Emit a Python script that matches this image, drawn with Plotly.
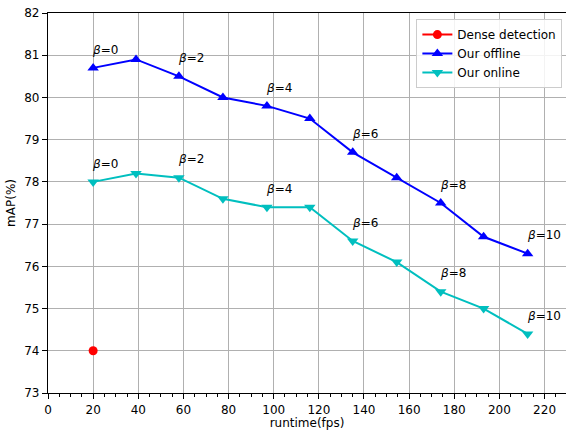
import plotly.graph_objects as go

# runtime (fps) for each beta setting
runtime = [20, 39, 58, 77.5, 97, 116, 135, 154.5, 174, 193, 212.5]
offline_map = [80.7, 80.9, 80.5, 80.0, 79.8, 79.5, 78.7, 78.1, 77.5, 76.7, 76.3]
online_map = [78.0, 78.2, 78.1, 77.6, 77.4, 77.4, 76.6, 76.1, 75.4, 75.0, 74.4]
dense_runtime = [20]
dense_map = [74.0]
beta_labels = ["0", "2", "4", "6", "8", "10"]
beta_index = [0, 2, 4, 6, 8, 10]

x_ticks = list(range(0, 221, 20))
y_ticks = list(range(73, 83))

FONT = "DejaVu Sans"

fig = go.Figure()
fig.add_trace(go.Scatter(
    x=dense_runtime, y=dense_map, mode="markers+lines", name="Dense detection",
    marker=dict(symbol="circle", size=9, color="#ff0000"),
    line=dict(color="#ff0000", width=2),
))
fig.add_trace(go.Scatter(
    x=runtime, y=offline_map, mode="lines+markers", name="Our offline",
    marker=dict(symbol="triangle-up", size=10, color="#0000ff"),
    line=dict(color="#0000ff", width=2),
))
fig.add_trace(go.Scatter(
    x=runtime, y=online_map, mode="lines+markers", name="Our online",
    marker=dict(symbol="triangle-down", size=10, color="#00bfbf"),
    line=dict(color="#00bfbf", width=2),
))

annotations = []
for series in (offline_map, online_map):
    for lab, i in zip(beta_labels, beta_index):
        annotations.append(dict(
            x=runtime[i] - 1.2, y=series[i] + 0.22, xref="x", yref="y",
            text="<i>β</i>=" + lab, showarrow=False,
            xanchor="left", yanchor="bottom",
            font=dict(family=FONT, size=12, color="black"),
        ))

fig.update_layout(
    width=566, height=430,
    margin=dict(l=48, r=0, t=13, b=37),
    paper_bgcolor="white", plot_bgcolor="white",
    font=dict(family=FONT, size=12, color="black"),
    showlegend=True,
    legend=dict(
        x=0.993, y=0.984, xanchor="right", yanchor="top",
        bgcolor="rgba(255,255,255,0.85)", bordercolor="#cccccc", borderwidth=1,
        font=dict(family=FONT, size=12), tracegroupgap=0, itemwidth=30,
    ),
    annotations=annotations,
)
fig.update_xaxes(
    range=[0, 229.5], tickvals=x_ticks, ticktext=[str(v) for v in x_ticks],
    showgrid=True, gridcolor="#b0b0b0", gridwidth=1,
    showline=True, linecolor="black", linewidth=1.2, mirror=True,
    ticks="outside", ticklen=5, tickcolor="black",
    minor=dict(dtick=5, tick0=0, ticks="outside", ticklen=3, tickcolor="black", showgrid=False),
    zeroline=False,
    title=dict(text="runtime(fps)", font=dict(family=FONT, size=12), standoff=4),
)
fig.update_yaxes(
    range=[73, 82], tickvals=y_ticks, ticktext=[str(v) for v in y_ticks],
    showgrid=True, gridcolor="#b0b0b0", gridwidth=1,
    showline=True, linecolor="black", linewidth=1.2, mirror=False,
    ticks="outside", ticklen=5, tickcolor="black",
    zeroline=False,
    title=dict(text="mAP(%)", font=dict(family=FONT, size=12), standoff=6),
)

fig.write_html("out.html")
